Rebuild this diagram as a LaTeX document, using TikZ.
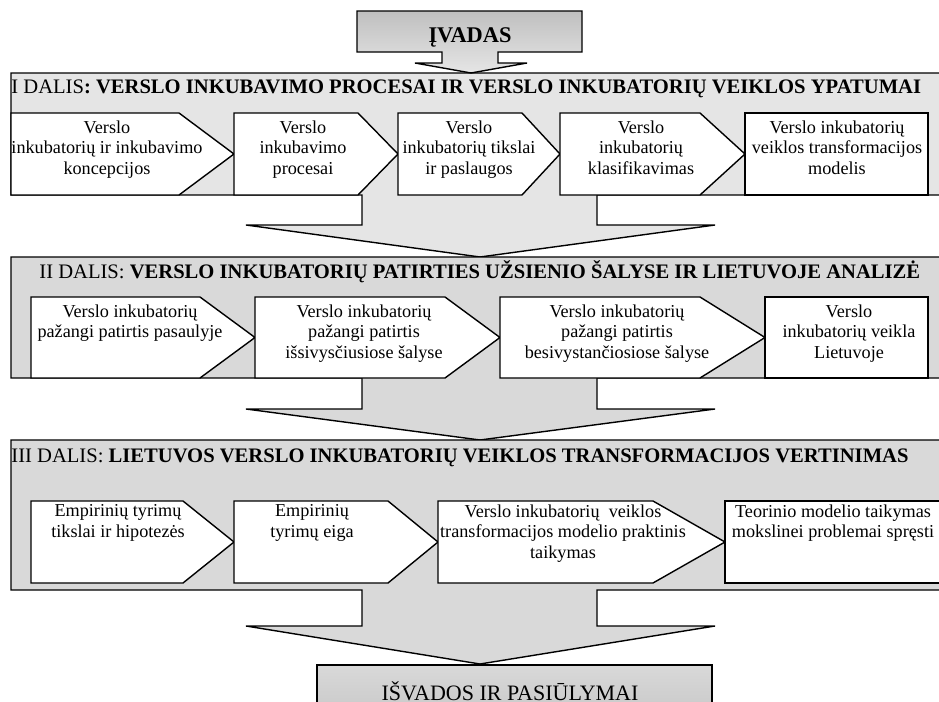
\documentclass[tikz,border=0pt]{standalone}
\usepackage{fontspec}
\setmainfont{Liberation Serif}
\definecolor{panelI}{gray}{0.9}
\definecolor{panelII}{gray}{0.85}
\tikzset{
	panel/.style={draw,line width=.7pt},
	stepbox/.style={draw,fill=white,line width=.7pt},
	txt/.style={anchor=north,align=center,inner sep=0pt,font=\fontsize{9.1}{10.3}\selectfont},
	ttl/.style={anchor=base west,inner sep=0pt,font=\fontsize{10.3}{12}\selectfont},
}
\begin{document}
\begin{tikzpicture}[x=.5pt,y=-.5pt]%STRUKTŪRA
		\clip (0,0) rectangle (939,702);
		% dalys su rodyklemis: virsus/apacia/kotas/smaigalys/spalva
		\foreach \t/\b/\s/\p/\c in {73/195/225/257/panelI,257/378/409/440/panelII,440/590/626/664/panelII}
		\draw[panel,fill=\c] (11,\t)--(960,\t)--(960,\b)--(597,\b)--(597,\s)--(715,\s)--(480,\p)--(246,\s)--(362,\s)--(362,\b)--(11,\b)--cycle;
		% ivadas ir isvados
		\draw[panel,top color=gray!50,middle color=white,bottom color=gray!20] (357,11)--(582,11)--(582,52)--(498,52)--(498,63)--(527,63)--(471,73)--(415,63)--(442,63)--(442,52)--(357,52)--cycle;
		\draw[panel,top color=gray!30,middle color=white,bottom color=gray!45] (317,665) rectangle (712,725);
		\node[anchor=base,font=\fontsize{11.2}{13}\selectfont\bfseries] (ivadas) at (470,42) {ĮVADAS};
		\node[anchor=base,font=\fontsize{11}{13}\selectfont] (isvados) at (510,700) {IŠVADOS IR PASIŪLYMAI};
		% etapai: kaire/kampas/smaigalys/virsus/apacia
		\foreach \l/\r/\p/\t/\b in {11/179/234/113/195,234/358/398/113/195,398/522/560/113/195,560/700/745/113/195,
			31/200/255/297/378,255/445/500/297/378,500/700/765/297/378,
			31/183/234/501/583,234/388/438/501/583,438/653/725/501/583}
		\draw[stepbox] (\l,\t)--(\r,\t)--(\p,{(\t+\b)/2})--(\r,\b)--(\l,\b)--cycle;
		\draw[stepbox] (745,113) rectangle (928,195)  (765,297) rectangle (928,378)  (725,501) rectangle (960,583);
		% pavadinimai
		\node[ttl] (dalisI) at (11,93) {I DALIS\textbf{: VERSLO INKUBAVIMO PROCESAI IR VERSLO INKUBATORIŲ VEIKLOS YPATUMAI}};
		\node[ttl] (dalisII) at (39,278) {II DALIS: \textbf{VERSLO INKUBATORIŲ PATIRTIES UŽSIENIO ŠALYSE IR LIETUVOJE ANALIZĖ}};
		\node[ttl] (dalisIII) at (11,462) {III DALIS: \textbf{LIETUVOS VERSLO INKUBATORIŲ VEIKLOS TRANSFORMACIJOS VERTINIMAS}};
		% I dalis
		\node[txt] (a1) at (107,120) {Verslo\\inkubatorių ir inkubavimo\\koncepcijos};
		\node[txt] (a2) at (303,120) {Verslo\\inkubavimo\\procesai};
		\node[txt] (a3) at (469,120) {Verslo\\inkubatorių tikslai\\ir paslaugos};
		\node[txt] (a4) at (641,120) {Verslo\\inkubatorių\\klasifikavimas};
		\node[txt] (a5) at (837,120) {Verslo inkubatorių\\veiklos transformacijos\\modelis};
		% II dalis
		\node[txt] (b1) at (130,304) {Verslo inkubatorių\\pažangi patirtis pasaulyje};
		\node[txt] (b2) at (364,304) {Verslo inkubatorių\\pažangi patirtis\\išsivysčiusiose šalyse};
		\node[txt] (b3) at (617,304) {Verslo inkubatorių\\pažangi patirtis\\besivystančiosiose šalyse};
		\node[txt] (b4) at (849,304) {Verslo\\inkubatorių veikla\\Lietuvoje};
		% III dalis
		\node[txt] (c1) at (118,504) {Empirinių tyrimų\\tikslai ir hipotezės};
		\node[txt] (c2) at (312,504) {Empirinių\\tyrimų eiga};
		\node[txt] (c3) at (563,504) {Verslo inkubatorių\ \ veiklos\\transformacijos modelio praktinis\\taikymas};
		\node[txt] (c4) at (833,504) {Teorinio modelio taikymas\\mokslinei problemai spręsti};
\end{tikzpicture}
\end{document}
